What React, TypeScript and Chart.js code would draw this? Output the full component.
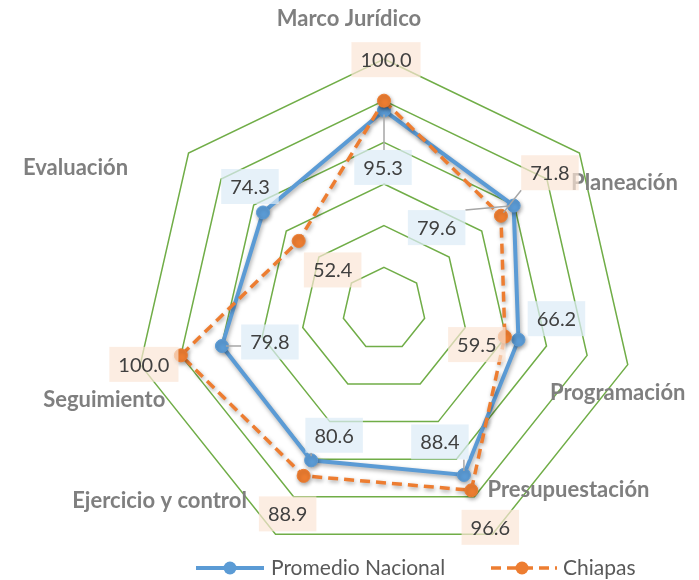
import React, { useEffect, useRef } from "react";
import { Chart, registerables } from "chart.js";

Chart.register(...registerables);

// ---- data ----
const categories = [
  "Marco Jurídico",
  "Planeación",
  "Programación",
  "Presupuestación",
  "Ejercicio y control",
  "Seguimiento",
  "Evaluación",
];
const promedioNacional = [95.3, 79.6, 66.2, 88.4, 80.6, 79.8, 74.3];
const chiapas = [100.0, 71.8, 59.5, 96.6, 88.9, 100.0, 52.4];
const seriesNames = ["Promedio Nacional", "Chiapas"];
const radialMin = 0;
const radialMax = 120;
const radialStep = 20;

// ---- styles / layout ----
const BLUE = "#5B9BD5";
const ORANGE = "#ED7D31";
const GRID = "#70AD47";
const FONT = "Lato, 'Open Sans', sans-serif";

const categoryLabelOffsets: number[][] = [
  [-35, -40],
  [45, 30],
  [-10, 28],
  [76, -44],
  [-116, -33],
  [-36, 35],
  [-113, 15],
];
const blueLabelOffsets: number[][] = [
  [-1, 57],
  [-77, 22],
  [38, -21],
  [-24, -33],
  [23, -25],
  [48, -4],
  [-13, -26],
];
const orangeLabelOffsets: number[][] = [
  [2, -41],
  [49, -43],
  [-28, 8],
  [19, 37],
  [-16, 38],
  [-37, 9],
  [34, 29],
];
const blueLeaders = [true, true, false, true, true, true, false];
const orangeLeaders = [false, true, false, false, false, false, false];

const shadowPlugin = {
  id: "shadowPlugin",
  beforeDatasetsDraw(chart: any) {
    const ctx = chart.ctx;
    ctx.save();
    ctx.shadowColor = "rgba(0,0,0,0.35)";
    ctx.shadowBlur = 4;
    ctx.shadowOffsetX = 1;
    ctx.shadowOffsetY = 2;
  },
  afterDatasetsDraw(chart: any) {
    chart.ctx.restore();
  },
};

const labelsPlugin = {
  id: "labelsPlugin",
  afterDraw(chart: any) {
    const ctx = chart.ctx as CanvasRenderingContext2D;
    const scale = chart.scales.r;
    ctx.save();

    // category labels
    const outer = scale.getDistanceFromCenterForValue(radialMax);
    ctx.font = `bold 22px ${FONT}`;
    ctx.fillStyle = "#7F7F7F";
    ctx.textAlign = "center";
    ctx.textBaseline = "middle";
    categories.forEach((c, i) => {
      const p = scale.getPointPosition(i, outer);
      ctx.fillText(c, p.x + categoryLabelOffsets[i][0], p.y + categoryLabelOffsets[i][1]);
    });

    // data labels
    const groups = [
      { ds: 0, values: promedioNacional, offs: blueLabelOffsets, leaders: blueLeaders, bg: "rgba(221,235,247,0.72)" },
      { ds: 1, values: chiapas, offs: orangeLabelOffsets, leaders: orangeLeaders, bg: "rgba(251,229,214,0.7)" },
    ];
    ctx.font = `20px ${FONT}`;
    groups.forEach((g) => {
      const meta = chart.getDatasetMeta(g.ds);
      meta.data.forEach((pt: any, i: number) => {
        const text = g.values[i].toFixed(1);
        const tw = ctx.measureText(text).width;
        const w = tw + 18;
        const h = 35;
        const cx = pt.x + g.offs[i][0];
        const cy = pt.y + g.offs[i][1];
        const x0 = cx - w / 2;
        const y0 = cy - h / 2;
        if (g.leaders[i]) {
          const tx = Math.max(x0, Math.min(pt.x, x0 + w));
          const ty = Math.max(y0, Math.min(pt.y, y0 + h));
          const dx = tx - pt.x;
          const dy = ty - pt.y;
          const d = Math.hypot(dx, dy) || 1;
          ctx.strokeStyle = "#A6A6A6";
          ctx.lineWidth = 1.5;
          ctx.beginPath();
          ctx.moveTo(pt.x + (dx / d) * 4, pt.y + (dy / d) * 4);
          ctx.lineTo(tx, ty);
          ctx.stroke();
        }
        ctx.fillStyle = g.bg;
        ctx.fillRect(x0, y0, w, h);
        ctx.fillStyle = "#404040";
        ctx.textAlign = "center";
        ctx.textBaseline = "middle";
        ctx.fillText(text, cx, cy + 1);
      });
    });

    // legend
    const ly = 568;
    ctx.lineWidth = 4;
    ctx.strokeStyle = BLUE;
    ctx.setLineDash([]);
    ctx.beginPath();
    ctx.moveTo(196, ly);
    ctx.lineTo(264, ly);
    ctx.stroke();
    ctx.fillStyle = BLUE;
    ctx.beginPath();
    ctx.arc(230, ly, 6.5, 0, Math.PI * 2);
    ctx.fill();

    ctx.strokeStyle = ORANGE;
    ctx.lineWidth = 3.5;
    ctx.setLineDash([10, 6]);
    ctx.beginPath();
    ctx.moveTo(491, ly);
    ctx.lineTo(557, ly);
    ctx.stroke();
    ctx.setLineDash([]);
    ctx.fillStyle = ORANGE;
    ctx.beginPath();
    ctx.arc(522, ly, 6.5, 0, Math.PI * 2);
    ctx.fill();

    ctx.font = `21px ${FONT}`;
    ctx.fillStyle = "#595959";
    ctx.textAlign = "left";
    ctx.textBaseline = "middle";
    ctx.fillText(seriesNames[0], 271, ly);
    ctx.fillText(seriesNames[1], 563, ly);

    ctx.restore();
  },
};

export default function App() {
  const canvasRef = useRef<HTMLCanvasElement | null>(null);

  useEffect(() => {
    if (!canvasRef.current) return;
    const chart = new Chart(canvasRef.current, {
      type: "radar",
      data: {
        labels: categories,
        datasets: [
          {
            label: seriesNames[0],
            data: promedioNacional,
            borderColor: BLUE,
            backgroundColor: BLUE,
            borderWidth: 4,
            pointRadius: 6.5,
            pointBackgroundColor: BLUE,
            pointBorderColor: BLUE,
            pointBorderWidth: 1,
            fill: false,
            order: 1,
          },
          {
            label: seriesNames[1],
            data: chiapas,
            borderColor: ORANGE,
            backgroundColor: ORANGE,
            borderWidth: 3.5,
            borderDash: [10, 6],
            pointRadius: 6.5,
            pointBackgroundColor: ORANGE,
            pointBorderColor: ORANGE,
            pointBorderWidth: 1,
            fill: false,
            order: 0,
          },
        ],
      },
      options: {
        responsive: false,
        animation: false,
        devicePixelRatio: 1,
        layout: { padding: { left: 134, top: 59, right: 65, bottom: 21 } },
        plugins: {
          legend: { display: false },
          tooltip: { enabled: false },
        },
        scales: {
          r: {
            min: radialMin,
            max: radialMax,
            ticks: { stepSize: radialStep, display: false },
            grid: { color: GRID, lineWidth: 1.5 },
            angleLines: { display: false },
            pointLabels: { display: false },
          },
        },
      },
      plugins: [shadowPlugin, labelsPlugin],
    });
    return () => chart.destroy();
  }, []);

  return (
    <div style={{ position: "fixed", left: 0, top: 0, width: 699, height: 580, background: "#fff" }}>
      <canvas ref={canvasRef} width={699} height={580} style={{ width: 699, height: 580, display: "block" }} />
    </div>
  );
}
